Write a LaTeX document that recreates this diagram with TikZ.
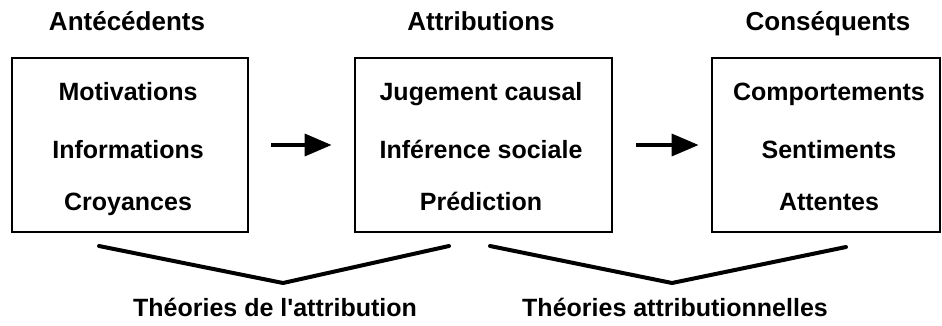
\documentclass[tikz,border=0pt]{standalone}
\usepackage{fontspec}
\setmainfont{Liberation Sans}
\usetikzlibrary{arrows.meta}
\begin{document}
\begin{tikzpicture}[x=1pt,y=-1pt,
  box/.style={draw, line width=2.8pt, minimum width=#1, minimum height=174pt, inner sep=0pt},
  lbl/.style={font=\fontsize{25}{30}\selectfont\bfseries, inner sep=0pt, anchor=base},
  ttl/.style={font=\fontsize{26}{30}\selectfont\bfseries, inner sep=0pt, anchor=base},
  arr/.style={line width=3.5pt, -{Triangle[length=27pt,width=22pt]}},
  chev/.style={line width=4pt, line join=round, line cap=round}]
\useasboundingbox (0,0) rectangle (942,326);
% titles
\node[ttl] (t1) at (127,31) {Antécédents};
\node[ttl] (t2) at (481,31) {Attributions};
\node[ttl] (t3) at (828,31) {Conséquents};
% boxes
\node[box=236pt] (b1) at (130,145) {};
\node[box=257pt] (b2) at (483.5,145) {};
\node[box=228pt] (b3) at (826,145) {};
% box contents
\node[lbl] (m1) at (128,101) {Motivations};
\node[lbl] (m2) at (128,158) {Informations};
\node[lbl] (m3) at (128,210) {Croyances};
\node[lbl] (a1) at (481,101) {Jugement causal};
\node[lbl] (a2) at (481,158) {Inférence sociale};
\node[lbl] (a3) at (481,210) {Prédiction};
\node[lbl] (c1) at (829,101) {Comportements};
\node[lbl] (c2) at (829,158) {Sentiments};
\node[lbl] (c3) at (829,210) {Attentes};
% arrows
\draw[arr] ([xshift=22pt]b1.east) -- ([xshift=-22pt]b2.west);
\draw[arr] ([xshift=23pt]b2.east) -- ([xshift=-12pt]b3.west);
% chevrons
\coordinate (p1) at (99,246);
\coordinate (p2) at (283,283);
\coordinate (p3) at (449,246);
\coordinate (q1) at (490,246);
\coordinate (q2) at (672,283);
\coordinate (q3) at (846,247);
\draw[chev] (p1) -- (p2) -- (p3);
\draw[chev] (q1) -- (q2) -- (q3);
% bottom labels
\node[lbl] (th1) at (275,316) {Théories de l\textquotesingle attribution};
\node[lbl] (th2) at (675,316) {Théories attributionnelles};
\end{tikzpicture}
\end{document}
